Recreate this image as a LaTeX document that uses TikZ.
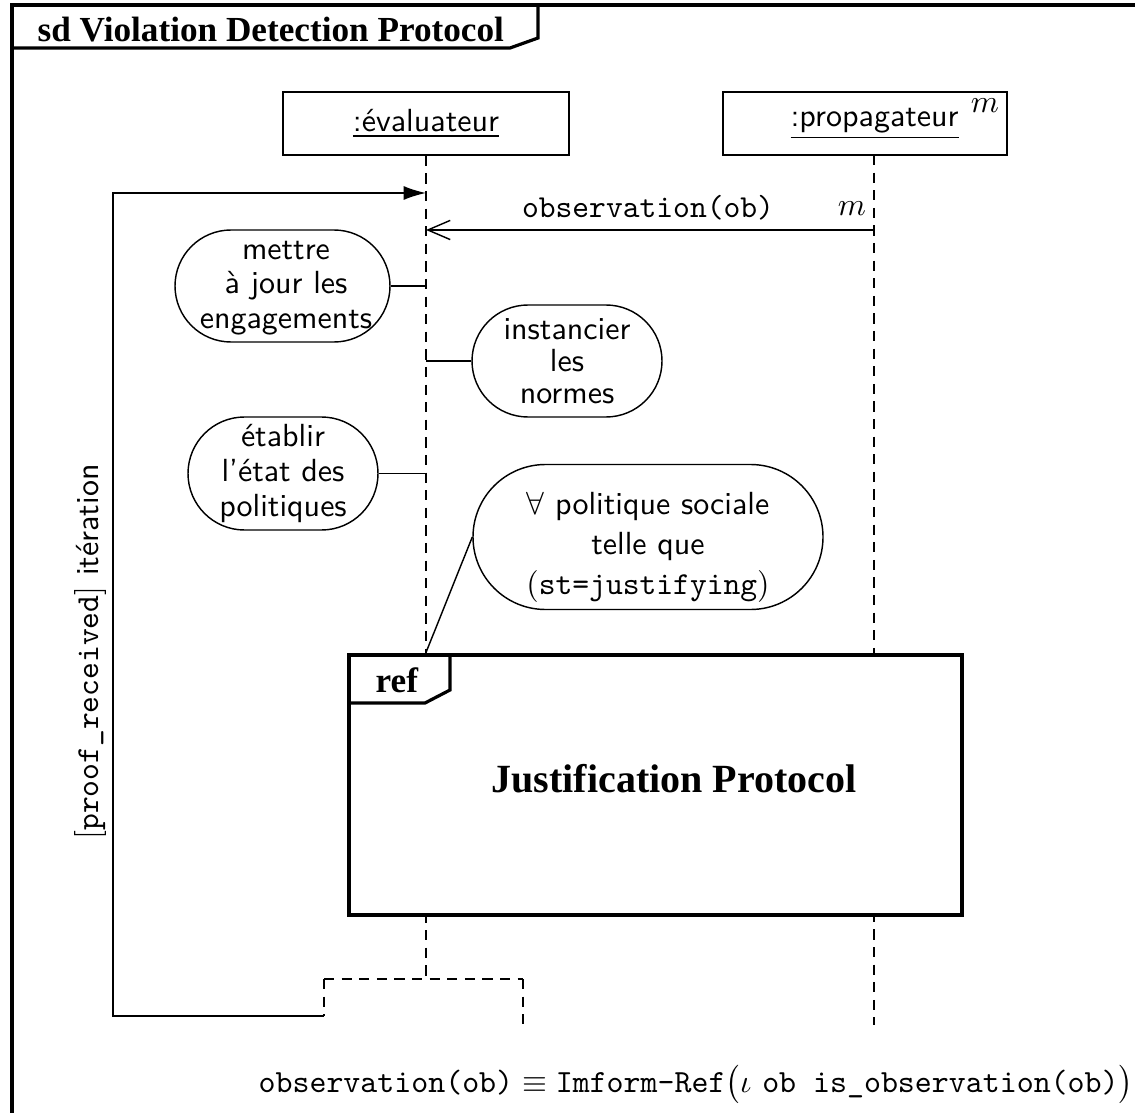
\documentclass[tikz,border=0pt]{standalone}
\usepackage{fontspec}
\newfontfamily\titlefont{Liberation Serif}
\usetikzlibrary{arrows.meta,shapes.misc}
\newdimen\pxu
\pxu=0.3125pt
\tikzset{
  thin line/.style={line width=0.45pt},
  frame line/.style={line width=1pt},
  lifebox/.style={draw, thin line, minimum height={63*\pxu}, inner sep=0pt, font=\sffamily},
  lifeline/.style={thin line, dash pattern=on 3.2pt off 2.3pt},
  action/.style={draw, thin line, rounded rectangle, align=center, inner sep=0pt,
    font=\sffamily\fontsize{10}{10.8}\selectfont},
  actiontext/.style={align=center, inner sep=0pt, font=\sffamily\fontsize{10}{10.8}\selectfont},
  msgarrow/.style={thin line, -{Straight Barb[length=7pt,width=6pt]}},
  looparrow/.style={thin line, -{Latex[length=7pt,width=4.4pt]}},
  frametitle/.style={font=\titlefont\bfseries\fontsize{11}{13}\selectfont, inner sep=0pt},
}
\begin{document}
\begin{tikzpicture}[x=0.3125pt,y=-0.3125pt]
\clip (0,0) rectangle (1135,1112);

% outer sequence-diagram frame and its name tab
\draw[frame line] (12,1150) -- (12,5) -- (1150,5);
\draw[frame line] (12,48) -- (510,48) -- (538,38) -- (538,5);
\node[frametitle, anchor=base west] (title) at (37,42) {sd Violation Detection Protocol};

% lifeline heads
\node[lifebox, minimum width={286*\pxu}] (eval) at (426,123.5) {\underline{:évaluateur}\hspace{4pt}};
\node[lifebox, minimum width={284*\pxu}] (prop) at (865,123.5) {\hspace{6pt}\underline{:propagateur}};
\node[anchor=base, inner sep=0pt] (propm) at (985,113) {$m$};

% lifelines and the fork below the reference
\coordinate (prtop) at (874,155);
\coordinate (prend) at (874,1025);
\coordinate (evfork) at (426,979);
\coordinate (forkL) at (324,979);
\coordinate (forkR) at (523,979);
\coordinate (forkLend) at (324,1016);
\coordinate (forkRend) at (523,1028);
\draw[lifeline] (eval.south) -- (evfork);
\draw[lifeline] (forkL) -- (forkR);
\draw[lifeline] (forkL) -- (forkLend);
\draw[lifeline] (forkR) -- (forkRend);
\draw[lifeline] (prtop) -- (prend);

% incoming observation message
\coordinate (msgsrc) at (874,230);
\coordinate (msgdst) at (426,230);
\draw[msgarrow] (msgsrc) -- (msgdst);
\node[anchor=base, inner sep=0pt, font=\ttfamily] (msglbl) at (648,218) {observation(ob)};
\node[anchor=base, inner sep=0pt] (msgm) at (852,216) {$m$};

% iteration loop back to the top of the evaluator
\coordinate (loopin) at (426,193);
\draw[looparrow] (forkLend) -- (113,1016) -- (113,193) -- (loopin);
\node[rotate=90, inner sep=0pt] (looplbl) at (90,652) {$[$\texttt{proof\_received}$]$ \textsf{itération}};

% local actions of the evaluator
\node[action, minimum width={215*\pxu}, minimum height={112*\pxu}] (upd) at (282.5,286) {};
\node[actiontext] (updtext) at (286,288) {mettre\\à jour les\\engagements};
\draw[thin line] (upd.east) -- (upd.east -| eval.south);
\node[action, minimum width={190*\pxu}, minimum height={112*\pxu}, font=\sffamily\fontsize{10}{10}\selectfont] (inst) at (567,361) {instancier\\les\\normes};
\draw[thin line] (inst.west) -- (inst.west -| eval.south);
\node[action, minimum width={190*\pxu}, minimum height={113*\pxu}] (etab) at (283,473.5) {établir\\l'état des\\politiques};
\draw[thin line] (etab.east) -- (etab.east -| eval.south);
\node[action, minimum width={350*\pxu}, minimum height={145*\pxu}] (forall) at (648,537) {};
\node[actiontext, font=\sffamily\fontsize{10}{12.5}\selectfont] (foralltext) at (648,547) {$\forall$ politique sociale\\telle que\\$($\texttt{st=justifying}$)$};
\coordinate (refhook) at (425,655);
\draw[thin line] (forall.west) -- (refhook);

% referenced interaction
\node[draw, frame line, fill=white, minimum width={613*\pxu}, minimum height={260*\pxu}, inner sep=0pt] (ref) at (655.5,785) {};
\draw[frame line] (349,703) -- (425,703) -- (450,690) -- (450,655);
\node[frametitle, anchor=base west] (reftag) at (375,692) {ref};
\node[anchor=base, inner sep=0pt, font=\titlefont\bfseries\fontsize{12.5}{15}\selectfont] (refname) at (674,792) {Justification Protocol};

% message definition
\node[anchor=base west, inner sep=0pt, font=\fontsize{10.1}{12}\selectfont] (msgdef) at (258,1092) {$\texttt{observation(ob)} \equiv \texttt{Imform-Ref}\bigl(\iota\ \texttt{ob is\_observation(ob)}\bigr)$};
\end{tikzpicture}
\end{document}
